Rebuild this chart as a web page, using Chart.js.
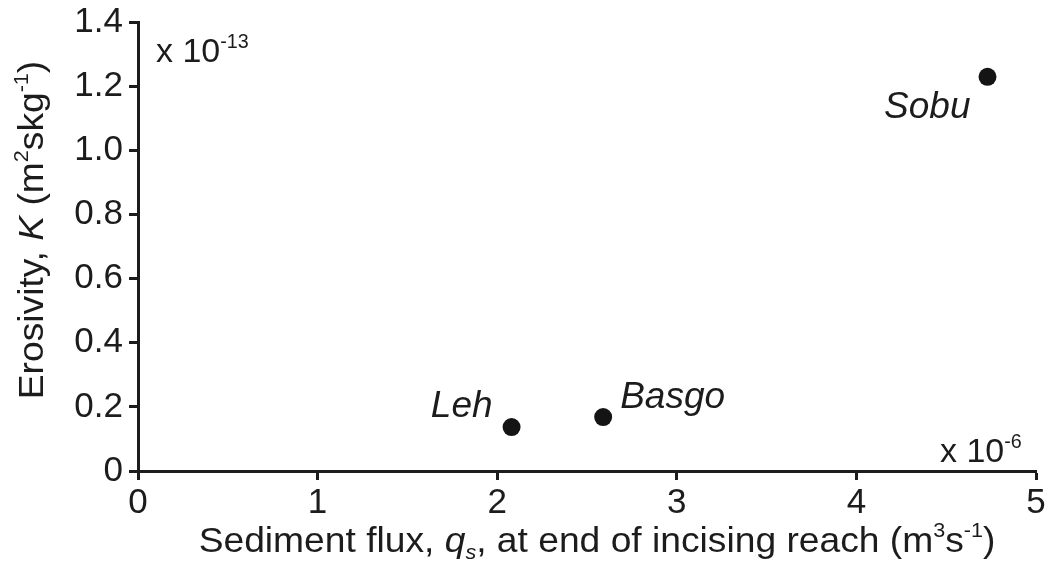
<!DOCTYPE html>
<html lang="en">
<head>
  <meta charset="UTF-8">
  <title>Erosivity vs sediment flux</title>
  <script src="https://cdn.jsdelivr.net/npm/chart.js"></script>
  <style>
    html, body { margin: 0; padding: 0; background: #fff; }
    canvas { display: block; }
  </style>
</head>
<body>
  <canvas id="grafico" width="1050" height="565"></canvas>

  <script>
    // catchments and their values (flux in 1e-6 m3/s, K in 1e-13 m2 s/kg)
    const sitios = ['Leh', 'Basgo', 'Sobu'];
    const flujo = [2.08, 2.59, 4.73];
    const erosividad = [0.137, 0.168, 1.229];

    const xTicks = [0, 1, 2, 3, 4, 5];
    const yTicks = [0, 0.2, 0.4, 0.6, 0.8, 1.0, 1.2, 1.4];

    const FONT = '"Liberation Sans", Arial, sans-serif';
    const INK = '#1c1c1c';
    const ANCHO = 1.063; // slight horizontal stretch of the lettering

    // where each site name sits relative to its dot
    const offsetEtiqueta = {
      Leh:   { dx: -19, dy: -10, align: 'right' },
      Basgo: { dx: 17,  dy: -9,  align: 'left' },
      Sobu:  { dx: -17, dy: 41,  align: 'right' }
    };

    // text made of pieces: {t, it, sup, sub}
    function medir(ctx, partes, size) {
      let w = 0;
      for (const p of partes) {
        const s = (p.sup || p.sub) ? size * 0.58 : size;
        ctx.font = (p.it ? 'italic ' : '') + s + 'px ' + FONT;
        w += ctx.measureText(p.t).width;
      }
      return w;
    }

    function escribir(ctx, partes, x, y, size) {
      ctx.textAlign = 'left';
      ctx.textBaseline = 'alphabetic';
      for (const p of partes) {
        const s = (p.sup || p.sub) ? size * 0.58 : size;
        const dy = p.sup ? -size * 0.42 : (p.sub ? size * 0.2 : 0);
        ctx.font = (p.it ? 'italic ' : '') + s + 'px ' + FONT;
        ctx.fillText(p.t, x, y + dy);
        x += ctx.measureText(p.t).width;
      }
    }

    // centred, horizontally stretched rich text
    function escribirCentrado(ctx, partes, size) {
      const w = medir(ctx, partes, size);
      ctx.save();
      ctx.scale(ANCHO, 1);
      escribir(ctx, partes, -w / 2, 0, size);
      ctx.restore();
    }

    const textos = {
      id: 'textos',
      afterDraw(chart) {
        const ctx = chart.ctx;
        const xs = chart.scales.x, ys = chart.scales.y;
        ctx.save();
        ctx.fillStyle = INK;

        // site names
        ctx.font = 'italic 37px ' + FONT;
        ctx.textBaseline = 'alphabetic';
        sitios.forEach((n, i) => {
          const o = offsetEtiqueta[n];
          ctx.textAlign = o.align;
          ctx.fillText(n, xs.getPixelForValue(flujo[i]) + o.dx, ys.getPixelForValue(erosividad[i]) + o.dy);
        });

        // axis multipliers
        escribir(ctx, [{ t: 'x 10' }, { t: '-13', sup: 1 }], 156, 62, 34);
        escribir(ctx, [{ t: 'x 10' }, { t: '-6', sup: 1 }], 940, 462, 34);

        // x title
        ctx.save();
        ctx.translate(597, 552);
        escribirCentrado(ctx, [
          { t: 'Sediment flux, ' }, { t: 'q', it: 1 }, { t: 's', it: 1, sub: 1 },
          { t: ', at end of incising reach (m' }, { t: '3', sup: 1 }, { t: 's' },
          { t: '-1', sup: 1 }, { t: ')' }
        ], 35);
        ctx.restore();

        // y title, rotated
        ctx.save();
        ctx.translate(43, 230);
        ctx.rotate(-Math.PI / 2);
        escribirCentrado(ctx, [
          { t: 'Erosivity, ' }, { t: 'K', it: 1 }, { t: ' (m' }, { t: '2', sup: 1 },
          { t: 'skg' }, { t: '-1', sup: 1 }, { t: ')' }
        ], 35);
        ctx.restore();

        ctx.restore();
      }
    };

    const ejeComun = {
      grid: { drawOnChartArea: false, drawTicks: true, tickLength: 9, tickWidth: 3, tickColor: INK },
      border: { display: true, width: 3, color: INK },
      ticks: { color: INK, font: { family: FONT, size: 35 }, autoSkip: false }
    };

    new Chart(document.getElementById('grafico'), {
      type: 'scatter',
      data: {
        datasets: [{
          data: flujo.map((x, i) => ({ x, y: erosividad[i] })),
          pointRadius: 9,
          pointHoverRadius: 9,
          backgroundColor: '#141414',
          borderWidth: 0
        }]
      },
      options: {
        responsive: false,
        animation: false,
        events: [],
        layout: { padding: { top: 22, right: 14, left: 0, bottom: 0 } },
        plugins: { legend: { display: false }, tooltip: { enabled: false } },
        scales: {
          x: {
            ...ejeComun,
            type: 'linear', min: 0, max: 5,
            afterBuildTicks: s => { s.ticks = xTicks.map(v => ({ value: v })); },
            ticks: { ...ejeComun.ticks, padding: 2, callback: v => String(v) },
            afterFit: s => { s.height = 94; }
          },
          y: {
            ...ejeComun,
            type: 'linear', min: 0, max: 1.4,
            afterBuildTicks: s => { s.ticks = yTicks.map(v => ({ value: v })); },
            ticks: {
              ...ejeComun.ticks,
              font: { family: FONT, size: 35, lineHeight: 1 },
              padding: 6,
              callback: v => v === 0 ? '0' : v.toFixed(1)
            },
            afterFit: s => { s.width = 138; s.paddingTop = 0; }
          }
        }
      },
      plugins: [textos]
    });
  </script>
</body>
</html>
